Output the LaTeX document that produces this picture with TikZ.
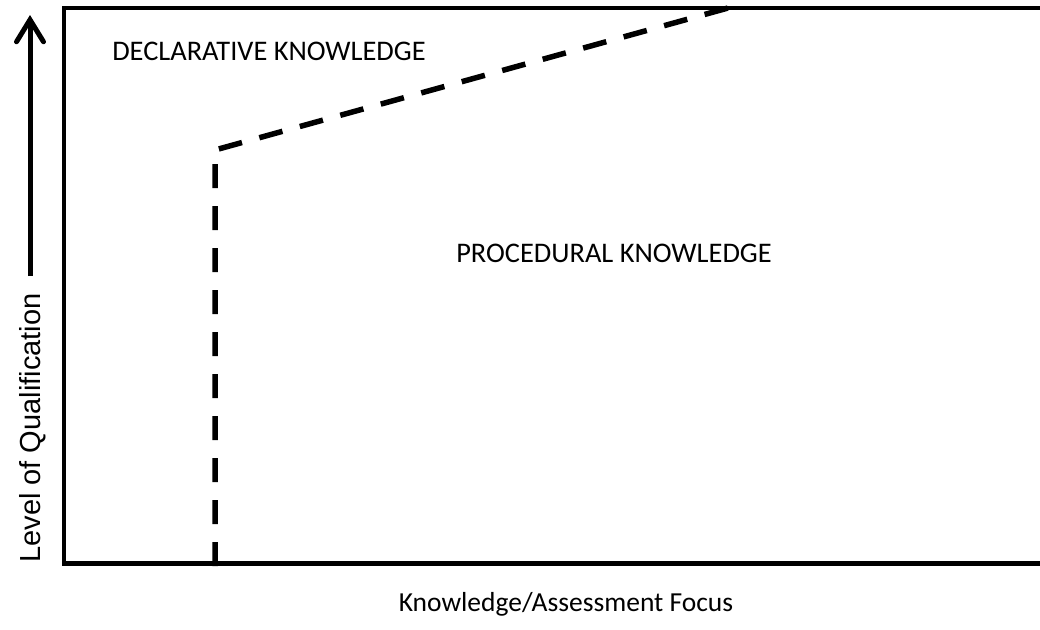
\documentclass[tikz,border=0pt]{standalone}
\usepackage{fontspec}
\setmainfont{Carlito}
\newfontfamily\axisfont{Liberation Sans}
\usetikzlibrary{arrows.meta}
\tikzset{
  lbl/.style={inner sep=0pt, font=\fontsize{28.4}{34}\selectfont},
  xlbl/.style={inner sep=0pt, font=\fontsize{27.5}{33}\selectfont},
  ylbl/.style={inner sep=0pt, font=\axisfont\fontsize{29}{35}\selectfont},
  frame/.style={line width=4.5pt, line join=miter},
  boundary/.style={line width=5.5pt, dash pattern=on 24pt off 18pt, line cap=butt},
  axisarrow/.style={line width=5pt, -{Straight Barb[length=22pt,width=27pt,line cap=round]}}
}
\begin{document}
\begin{tikzpicture}[x=1pt,y=-1pt]
\useasboundingbox (0,0) rectangle (1040,629);
% frame corners
\coordinate (ftr) at (1045,8);
\coordinate (ftl) at (64,8);
\coordinate (fbl) at (64,563.5);
\coordinate (fbr) at (1045,563.5);
\draw[frame] (ftr) -- (ftl) -- (fbl) -- (fbr);
% boundary
\coordinate (d0) at (215,566);
\coordinate (d1) at (215,150);
\coordinate (d2) at (728,8);
\draw[boundary] (d0) -- (d1) -- (d2);
% axis arrow
\coordinate (atail) at (30,276);
\coordinate (ahead) at (30,15);
\draw[axisarrow] (atail) -- (ahead);
% labels
\node[lbl, anchor=base] (decl) at (269,60) {DECLARATIVE KNOWLEDGE};
\node[lbl, anchor=base] (proc) at (614,262) {PROCEDURAL KNOWLEDGE};
\node[xlbl, anchor=base] (xlab) at (566,611) {Knowledge/Assessment Focus};
\node[ylbl, rotate=90, anchor=base] (ylab) at (40,428) {Level of Qualification};
\end{tikzpicture}
\end{document}
